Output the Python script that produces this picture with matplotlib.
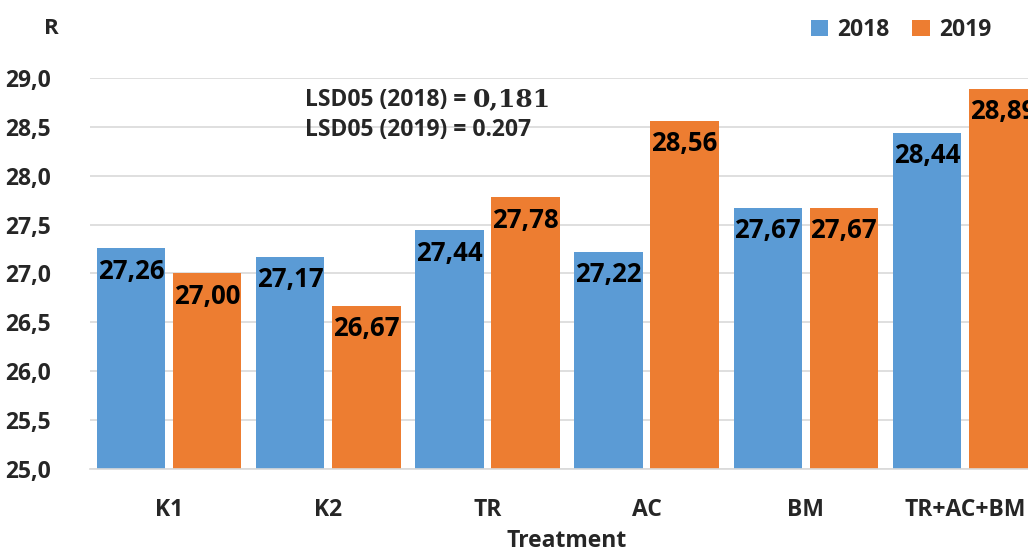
import matplotlib
matplotlib.use("Agg")
import matplotlib.pyplot as plt
import numpy as np

treatments = ["K1", "K2", "TR", "AC", "BM", "TR+AC+BM"]
r_2018 = [27.26, 27.17, 27.44, 27.22, 27.67, 28.44]
r_2019 = [27.00, 26.67, 27.78, 28.56, 27.67, 28.89]
y_ticks = [25.0, 25.5, 26.0, 26.5, 27.0, 27.5, 28.0, 28.5, 29.0]

blue = "#5B9BD5"
orange = "#ED7D31"
font = "Open Sans"

plt.rcParams["font.family"] = [font, "DejaVu Sans"]
plt.rcParams["font.weight"] = "bold"

fig = plt.figure(figsize=(10.28, 5.53), dpi=100)
ax = fig.add_axes([0.0871, 0.152, 0.929, 0.707])

x = np.arange(len(treatments))
w = 0.43
off = 0.239
b1 = ax.bar(x - off, r_2018, w, color=blue, label="2018", zorder=2)
b2 = ax.bar(x + off, r_2019, w, color=orange, label="2019", zorder=2)

def fmt(v):
    return f"{v:.2f}".replace(".", ",")

for bars, vals in ((b1, r_2018), (b2, r_2019)):
    for rect, v in zip(bars, vals):
        ax.annotate(fmt(v), xy=(rect.get_x() + rect.get_width() / 2, v),
                    xytext=(0, -23), textcoords="offset pixels",
                    ha="center", va="center", fontsize=18.5,
                    fontweight="bold", color="black", zorder=3,
                    annotation_clip=False)

ax.set_xlim(-0.5, len(treatments) - 0.5)
ax.set_ylim(25.0, 29.0)
ax.set_yticks(y_ticks)
ax.set_yticklabels([f"{t:.1f}".replace(".", ",") for t in y_ticks],
                   fontsize=16.5, fontweight="bold", color="#262626")
ax.set_xticks(x)
ax.set_xticklabels(treatments, fontsize=16.5, fontweight="bold", color="#262626")
ax.tick_params(axis="both", length=0)
ax.tick_params(axis="y", pad=28)
ax.tick_params(axis="x", pad=21)
ax.grid(axis="y", color="#d9d9d9", linewidth=1.2, zorder=0)
ax.set_axisbelow(True)
for s in ("top", "right", "left"):
    ax.spines[s].set_visible(False)
ax.spines["bottom"].set_color("#d9d9d9")
ax.spines["bottom"].set_linewidth(1.2)

# axis titles
fig.text(567 / 1028, 1 - 541 / 553, "Treatment", fontsize=16.5, fontweight="bold",
         color="#262626", ha="center", va="center")
fig.text(51 / 1028, 1 - 28 / 553, "R", fontsize=16, fontweight="bold",
         color="#262626", ha="center", va="center")

# LSD annotations
t1 = fig.text(305 / 1028, 1 - 100 / 553, "LSD05 (2018) = ", fontsize=16.5,
              fontweight="bold", color="#262626", ha="left", va="center")
fig.canvas.draw()
ax.annotate("0,181", xy=(1, 0.03), xycoords=t1, ha="left", va="bottom",
            fontsize=18, fontweight="bold", color="#262626",
            family=["DejaVu Serif"], annotation_clip=False)
fig.text(305 / 1028, 1 - 130 / 553, "LSD05 (2019) = 0.207", fontsize=16.5,
         fontweight="bold", color="#262626", ha="left", va="center")

leg = fig.legend(handles=[b1, b2], labels=["2018", "2019"], loc="center",
                 bbox_to_anchor=(901 / 1028, 1 - 30 / 553), ncol=2, frameon=False,
                 fontsize=16.5, handlelength=0.75, handleheight=0.75,
                 handletextpad=0.4, columnspacing=1.0)
for t in leg.get_texts():
    t.set_fontweight("bold")
    t.set_color("#262626")

fig.savefig("out.png", dpi=100)
